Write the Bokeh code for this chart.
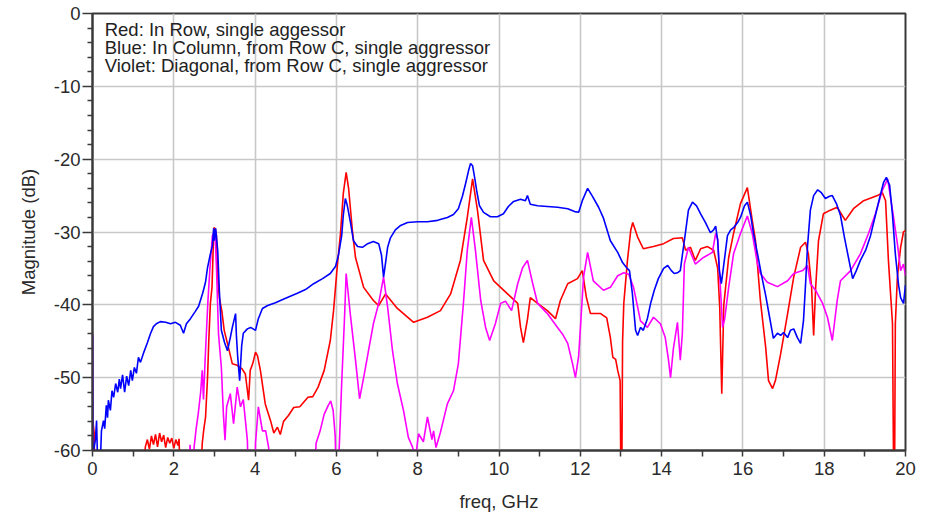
from bokeh.plotting import figure
from bokeh.models import Range1d, FixedTicker, Label
from bokeh.embed import file_html
from bokeh.resources import INLINE

# ---------------- data ----------------
x_ticks = [0, 2, 4, 6, 8, 10, 12, 14, 16, 18, 20]
x_minor = [1, 3, 5, 7, 9, 11, 13, 15, 17, 19]
y_ticks = [-60, -50, -40, -30, -20, -10, 0]
y_minor = [-58, -56, -54, -52, -48, -46, -44, -42, -38, -36, -34, -32,
           -28, -26, -24, -22, -18, -16, -14, -12, -8, -6, -4, -2]
x_tick_labels = ["0", "2", "4", "6", "8", "10", "12", "14", "16", "18", "20"]
y_tick_labels = ["-60", "-50", "-40", "-30", "-20", "-10", "0"]

legend_lines = ["Red: In Row, single aggessor",
                "Blue: In Column, from Row C, single aggressor",
                "Violet: Diagonal, from Row C, single aggressor"]

blue_f = [0.00, 0.01, 0.07, 0.10, 0.12, 0.20, 0.22, 0.27, 0.30, 0.34, 0.37, 0.39, 0.44,
          0.48, 0.52, 0.57, 0.62, 0.66, 0.69, 0.74, 0.79, 0.84, 0.89, 0.94, 0.98, 1.03,
          1.08, 1.13, 1.18, 1.25, 1.35, 1.43, 1.50, 1.57,
          1.67, 1.80, 1.92, 2.04, 2.16, 2.24, 2.31, 2.41, 2.53, 2.61, 2.71, 2.78,
          2.83, 2.90, 2.95, 2.98, 3.00, 3.03, 3.08, 3.12, 3.17, 3.25, 3.32, 3.39,
          3.44, 3.52, 3.54, 3.57, 3.62, 3.67, 3.71, 3.81, 3.89, 4.01, 4.08, 4.18,
          4.31, 4.50, 4.75, 5.04, 5.24, 5.44, 5.66, 5.85, 5.98, 6.05, 6.13, 6.17,
          6.22, 6.27, 6.35, 6.42, 6.52, 6.64, 6.77, 6.91, 7.04, 7.11, 7.16, 7.21,
          7.26, 7.33, 7.45, 7.58, 7.75, 8.00, 8.24, 8.49, 8.73, 8.88, 9.00, 9.10,
          9.18, 9.25, 9.30, 9.35, 9.40, 9.45, 9.52, 9.62, 9.79, 9.96, 10.11, 10.23,
          10.36, 10.53, 10.65, 10.70, 10.77, 10.95, 11.19, 11.44, 11.69, 11.86, 11.96, 12.05,
          12.18, 12.30, 12.45, 12.57, 12.74, 12.92, 13.04, 13.14, 13.21, 13.28, 13.36, 13.41,
          13.48, 13.55, 13.65, 13.73, 13.82, 13.92, 14.05, 14.15, 14.24, 14.31, 14.39, 14.46,
          14.51, 14.56, 14.66, 14.76, 14.86, 14.96, 15.08, 15.20, 15.28, 15.33, 15.38, 15.42,
          15.47, 15.55, 15.62, 15.70, 15.77, 15.87, 15.94, 16.04, 16.11, 16.19, 16.26, 16.36,
          16.46, 16.56, 16.65, 16.75, 16.85, 16.93, 17.00, 17.10, 17.17, 17.25, 17.34, 17.42,
          17.49, 17.54, 17.59, 17.66, 17.74, 17.84, 17.93, 18.03, 18.13, 18.20, 18.30, 18.40,
          18.50, 18.60, 18.70, 18.79, 18.89, 19.02, 19.14, 19.26, 19.36, 19.46, 19.53, 19.61,
          19.68, 19.75, 19.83, 19.88, 19.95, 20.00]
blue_db = [-44.2, -60.5, -58.6, -55.9, -60.5, -60.5, -57.3, -55.9, -57.0, -53.8, -55.5, -53.1, -54.5,
           -51.8, -52.7, -50.8, -52.0, -50.2, -51.5, -49.6, -52.0, -49.8, -51.1, -49.0, -50.4, -48.6,
           -49.4, -47.2, -47.9, -46.7, -45.2, -43.9, -43.0, -42.6,
           -42.3, -42.4, -42.6, -42.4, -42.8, -43.9, -42.6, -41.9, -40.9, -40.2, -38.4, -36.9,
           -34.9, -33.0, -31.9, -29.5, -31.2, -29.5, -32.5, -38.0, -43.5, -45.2, -46.3, -44.5,
           -43.1, -41.2, -44.2, -47.0, -50.4, -45.6, -43.9, -43.3, -43.1, -43.5, -41.9, -40.5,
           -40.1, -39.7, -39.1, -38.4, -37.9, -37.1, -36.4, -35.7, -34.7, -33.2, -30.5, -27.7,
           -25.4, -26.4, -28.8, -31.2, -32.0, -32.1, -31.6, -31.3, -31.6, -33.2, -36.2, -34.2,
           -32.1, -30.8, -29.7, -29.1, -28.7, -28.6, -28.6, -28.4, -28.0, -27.6, -26.8, -25.1,
           -23.3, -21.6, -20.6, -20.9, -22.5, -24.3, -26.4, -27.3, -27.9, -27.9, -27.5, -26.5,
           -25.8, -25.5, -25.7, -25.0, -26.2, -26.4, -26.5, -26.6, -26.8, -27.2, -27.3, -25.7,
           -24.0, -25.1, -26.6, -28.1, -31.2, -32.8, -34.2, -34.9, -35.3, -38.4, -43.5, -44.2,
           -43.1, -43.5, -41.9, -39.8, -38.0, -36.4, -35.0, -34.6, -35.3, -35.7, -35.6, -35.3,
           -33.2, -31.2, -27.0, -25.9, -26.4, -27.5, -28.7, -30.1, -29.7, -29.2, -31.2, -35.3,
           -37.1, -33.6, -30.5, -29.7, -29.4, -28.7, -28.0, -26.4, -25.9, -27.7, -30.2, -33.0,
           -36.0, -38.7, -41.5, -44.6, -43.9, -44.2, -43.8, -44.5, -43.5, -43.3, -44.5, -45.3,
           -42.2, -37.3, -31.9, -27.0, -25.0, -24.2, -24.6, -25.4, -25.1, -25.0, -26.1, -27.7,
           -30.8, -33.6, -36.4, -35.3, -33.9, -32.5, -30.5, -27.7, -25.4, -23.2, -22.5, -23.6,
           -27.7, -33.0, -37.3, -39.0, -39.8, -37.3]

red_f = [0.00, 0.01, 0.04, 0.06, 1.25, 1.30, 1.35, 1.40, 1.45, 1.50, 1.55, 1.60,
         1.65, 1.70, 1.75, 1.80, 1.85, 1.90, 1.95, 2.00, 2.05, 2.10, 2.13, 2.16,
         2.65, 2.70, 2.74, 2.78, 2.83, 2.86, 2.90, 2.94, 2.97, 2.99, 3.02, 3.05,
         3.08, 3.12, 3.18, 3.24, 3.32, 3.44, 3.56, 3.68, 3.76, 3.84, 3.88, 3.94,
         4.01, 4.06, 4.13, 4.25, 4.38, 4.46, 4.55, 4.62, 4.70, 4.82, 4.95, 5.10, 5.30,
         5.42, 5.55, 5.70, 5.85,
         5.93, 6.02, 6.10, 6.17, 6.24, 6.30, 6.40, 6.47, 6.67, 6.91, 7.04, 7.21,
         7.50, 7.90, 8.24, 8.56, 8.81, 9.05, 9.22, 9.35, 9.47, 9.62, 9.87, 10.21,
         10.46, 10.53, 10.60, 10.70, 10.77, 10.95, 11.19, 11.39, 11.51, 11.69, 11.93, 12.05,
         12.15, 12.25, 12.50, 12.65, 12.74, 12.80, 12.87, 12.92, 12.98, 13.00, 13.02, 13.04,
         13.07, 13.16, 13.24, 13.29, 13.41, 13.55, 13.80, 14.05, 14.29, 14.51, 14.59, 14.71,
         14.83, 14.96, 15.13, 15.28, 15.38, 15.43, 15.48, 15.53, 15.65, 15.77, 15.94, 16.11,
         16.23, 16.31, 16.43, 16.56, 16.63, 16.73, 16.80, 16.93, 17.10, 17.25, 17.42, 17.54,
         17.61, 17.69, 17.74, 17.79, 17.86, 17.98, 18.15, 18.32, 18.52, 18.72, 18.97, 19.31,
         19.43, 19.51, 19.58, 19.68, 19.71, 19.73, 19.75, 19.80, 19.88, 19.95, 20.00]
red_db = [-65.0, -56.0, -57.5, -65.0, -65.0, -59.5, -58.5, -59.8, -58.0, -59.2, -57.8, -59.5,
          -57.6, -58.8, -57.9, -59.6, -58.2, -59.0, -58.3, -59.7, -58.5, -59.3, -58.4, -65.0,
          -65.0, -59.0, -57.0, -55.5, -50.0, -45.0, -39.8, -37.6, -32.0, -29.4, -29.6, -30.5,
          -36.2, -39.0, -40.8, -43.5, -45.3, -48.1, -48.3, -48.8, -49.5, -53.1, -49.0, -48.1,
          -46.5, -47.0, -49.0, -53.6, -55.9, -57.6, -56.8, -57.8, -56.0, -55.2, -54.1, -54.0, -52.7,
          -52.6, -51.3, -49.0, -44.9,
          -40.8, -34.8, -30.2, -24.7, -21.8, -24.0, -30.2, -33.5, -37.6, -39.4, -40.1, -38.5,
          -40.5, -42.4, -41.7, -40.8, -38.5, -33.9, -28.0, -22.7, -27.0, -33.9, -36.7, -38.5,
          -39.8, -43.1, -45.2, -42.0, -39.0, -39.8, -40.8, -41.9, -39.4, -37.1, -36.4, -35.3,
          -39.0, -41.2, -41.2, -41.8, -44.5, -47.2, -47.5, -49.0, -50.4, -65.0, -65.0, -45.0,
          -39.8, -33.9, -29.8, -28.7, -30.7, -32.3, -32.0, -31.6, -30.9, -30.8, -32.5, -32.1,
          -33.9, -32.3, -32.0, -32.5, -35.0, -40.4, -52.2, -40.0, -33.5, -30.2, -26.1, -23.9,
          -28.4, -31.2, -39.4, -45.8, -50.4, -51.5, -50.4, -46.7, -41.2, -36.2, -32.1, -31.4,
          -33.0, -37.6, -44.2, -37.6, -31.2, -27.5, -27.0, -26.6, -28.4, -26.8, -25.7, -25.0,
          -24.6, -25.7, -33.9, -42.6, -65.0, -65.0, -42.6, -36.2, -32.1, -30.0, -29.8]

violet_f = [0.00, 0.01, 2.37, 2.40, 2.45, 2.50, 2.55, 2.60, 2.66, 2.70, 2.73, 2.77,
            2.84, 2.89, 2.95, 3.00, 3.02, 3.05, 3.10, 3.17, 3.22, 3.26, 3.30, 3.39,
            3.47, 3.56, 3.64, 3.71, 3.81, 3.84, 4.00, 4.01, 4.08, 4.18, 4.26, 4.33,
            4.45, 5.45, 5.50, 5.60, 5.70, 5.80, 5.86, 5.92, 5.97, 6.00, 6.05, 6.07,
            6.13, 6.20, 6.24, 6.35, 6.47, 6.57, 6.67, 6.79, 6.91, 7.04, 7.16, 7.26,
            7.38, 7.50, 7.65, 7.77, 7.87, 7.95, 8.02, 8.14, 8.24, 8.35, 8.39, 8.45,
            8.56, 8.73, 8.88, 9.00, 9.13, 9.22, 9.32, 9.42, 9.55, 9.67, 9.77, 9.91,
            10.04, 10.16, 10.31, 10.46, 10.58, 10.70, 10.83, 10.95, 11.19, 11.44, 11.56, 11.69,
            11.81, 11.88, 11.96, 12.08, 12.18, 12.32, 12.57, 12.74, 12.92, 13.07, 13.19, 13.31,
            13.41, 13.48, 13.65, 13.80, 13.97, 14.09, 14.17, 14.22, 14.29, 14.39, 14.46, 14.51,
            14.56, 14.66, 14.83, 15.03, 15.25, 15.33, 15.38, 15.43, 15.50, 15.55, 15.65, 15.77,
            15.94, 16.11, 16.23, 16.36, 16.43, 16.60, 16.85, 17.10, 17.25, 17.47, 17.59, 17.66,
            17.79, 17.96, 18.08, 18.20, 18.32, 18.40, 18.65, 18.89, 19.09, 19.26, 19.43, 19.56,
            19.68, 19.80, 19.88, 19.95, 20.00]
violet_db = [-44.0, -65.0, -65.0, -59.2, -65.0, -59.5, -57.0, -55.0, -52.0, -49.0, -53.0, -47.6,
             -39.4, -34.9, -30.5, -30.0, -31.0, -34.9, -44.0, -48.6, -55.0, -58.6, -54.0, -52.2,
             -56.3, -51.3, -54.0, -53.0, -58.6, -65.0, -65.0, -59.0, -54.0, -57.3, -57.3, -59.5,
             -65.0, -65.0, -59.0, -57.3, -55.0, -53.8, -53.2, -54.5, -58.0, -65.0, -65.0, -59.5,
             -50.8, -41.7, -35.7, -41.7, -47.6, -52.9, -50.0, -46.3, -42.6, -39.8, -36.2, -40.3,
             -46.3, -50.8, -54.5, -58.2, -59.5, -61.0, -57.7, -58.8, -55.4, -58.5, -57.3, -59.6,
             -57.5, -53.6, -51.8, -48.1, -39.4, -32.5, -28.0, -32.5, -39.4, -43.1, -44.9, -42.6,
             -39.8, -39.5, -40.8, -37.1, -34.9, -33.9, -37.1, -39.8, -41.2, -43.1, -44.0, -45.3,
             -48.1, -50.0, -47.0, -36.2, -32.8, -36.7, -38.0, -37.6, -36.0, -35.6, -35.8, -37.6,
             -40.3, -42.2, -43.1, -41.7, -42.6, -44.5, -47.6, -50.0, -46.0, -42.4, -47.6, -44.0,
             -34.4, -32.1, -34.4, -33.5, -32.8, -30.2, -31.0, -36.0, -43.1, -42.0, -37.6, -33.0,
             -30.2, -27.8, -30.2, -34.4, -35.7, -36.9, -37.5, -36.7, -35.7, -35.3, -34.6, -37.1,
             -38.0, -39.8, -41.7, -44.9, -39.4, -36.7, -35.3, -33.0, -30.2, -27.5, -24.3, -22.7,
             -27.0, -31.6, -35.3, -34.4, -36.0]

# ---------------- figure ----------------
p = figure(width=918, height=516, output_backend="svg", toolbar_location=None,
           x_range=Range1d(0, 20), y_range=Range1d(-60, 0),
           min_border_left=92, min_border_right=13, min_border_top=13,
           min_border_bottom=66,
           x_axis_label="freq, GHz", y_axis_label="Magnitude (dB)")
p.background_fill_color = "white"
p.border_fill_color = "white"
p.outline_line_color = "#3a3a3a"
p.outline_line_width = 2

p.xaxis.ticker = FixedTicker(ticks=x_ticks, minor_ticks=x_minor)
p.yaxis.ticker = FixedTicker(ticks=y_ticks, minor_ticks=y_minor)
p.xaxis.major_label_overrides = dict(zip(x_ticks, x_tick_labels))
p.yaxis.major_label_overrides = dict(zip(y_ticks, y_tick_labels))

for ax in (p.xaxis[0], p.yaxis[0]):
    ax.axis_line_color = "#3a3a3a"
    ax.axis_line_width = 2
    ax.major_tick_line_color = "#3a3a3a"
    ax.minor_tick_line_color = "#3a3a3a"
    ax.major_tick_line_width = 1.5
    ax.minor_tick_line_width = 1.5
    ax.major_tick_in = 0
    ax.minor_tick_in = 0
    ax.major_label_text_font = "Liberation Sans"
    ax.major_label_text_font_size = "18.5px"
    ax.major_label_text_color = "#2a2a2a"
    ax.axis_label_text_font = "Liberation Sans"
    ax.axis_label_text_font_size = "18.5px"
    ax.axis_label_text_font_style = "normal"
    ax.axis_label_text_color = "#2a2a2a"

p.xaxis.major_tick_out = 6
p.xaxis.minor_tick_out = 6
p.xaxis.major_label_standoff = 5
p.xaxis.axis_label_standoff = 13
p.yaxis.major_tick_out = 10
p.yaxis.minor_tick_out = 5
p.yaxis.major_label_standoff = 2
p.yaxis.axis_label_standoff = 12

p.grid.grid_line_color = "#c8c8c8"
p.grid.grid_line_width = 1.6

p.line(red_f, red_db, line_color="#ff0000", line_width=1.6)
p.line(violet_f, violet_db, line_color="#ff00ff", line_width=1.6)
p.line(blue_f, blue_db, line_color="#0000ff", line_width=1.6)

for i, txt in enumerate(legend_lines):
    p.add_layout(Label(x=0.3, y=-2.25 - i * 2.45, text=txt,
                       text_font="Liberation Sans", text_font_size="18.5px",
                       text_color="#222222", text_baseline="alphabetic"))

open("out.html", "w").write(file_html(p, INLINE))
